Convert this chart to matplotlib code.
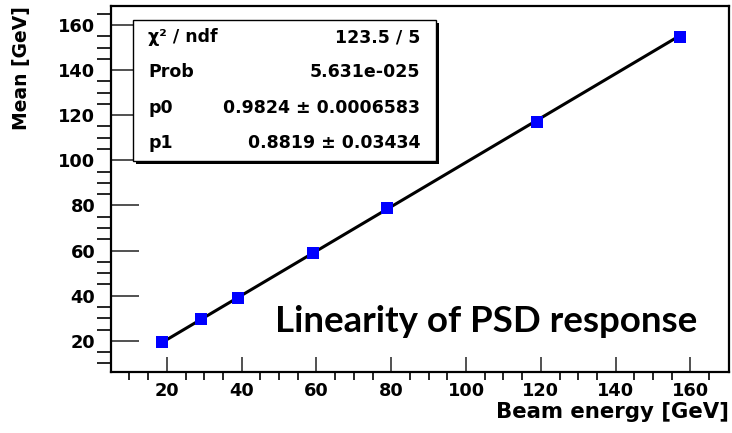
from matplotlib import pyplot as plt, patches
import numpy as np

# beam energies and measured mean response
beamEnergy = [18.8, 29.1, 38.9, 59.1, 78.9, 119.0, 157.1]
meanResponse = [19.6, 29.5, 39.2, 59.0, 78.7, 117.1, 154.8]
# linear fit p0*x + p1
p0 = 0.9824
p1 = 0.8819
statLabels = ["\u03c7\u00b2 / ndf", "Prob", "p0", "p1"]
statValues = ["123.5 / 5", "5.631e-025", "0.9824 \u00b1 0.0006583", "0.8819 \u00b1 0.03434"]

W, H = 732, 433
plt.rcParams["font.family"] = ["DejaVu Sans"]
plt.rcParams["font.weight"] = "bold"
fig = plt.figure(figsize=(W/100, H/100), dpi=100)
ax = fig.add_axes([110.7/W, 1-372/H, (729-110.7)/W, (372-6)/H])

xFit = np.linspace(beamEnergy[0]+0.7, beamEnergy[-1], 50)
ax.plot(xFit, p0*xFit + p1, color='black', lw=2.2, zorder=2)
ax.plot(beamEnergy, meanResponse, 's', color='#0000ff', ms=8, mew=0, zorder=3)

ax.set_xlim(5, 170.3)
ax.set_ylim(6.2, 168.4)
ax.set_xticks(range(20, 161, 20))
ax.set_yticks(range(20, 161, 20))
ax.set_xticks(range(10, 170, 5), minor=True)
ax.set_yticks(range(10, 168, 5), minor=True)
ax.tick_params(direction='in', labelsize=12.8, width=1.2, color='#333333')
ax.tick_params(axis='x', which='major', length=11, pad=7)
ax.tick_params(axis='x', which='minor', length=5.5, width=1.2)
ax.tick_params(axis='y', which='major', length=20, pad=11)
ax.tick_params(axis='y', which='minor', length=10, width=1.2)
for lbl in ax.get_xticklabels() + ax.get_yticklabels():
  lbl.set_fontweight('bold')
for s in ax.spines.values():
  s.set_linewidth(1.6)

fig.text(729/W, 1-412/H, "Beam energy [GeV]", ha='right', va='center', fontsize=15.3, fontweight='bold')
fig.text(22/W, 1-6/H, "Mean [GeV]", ha='center', va='top', rotation=90, fontsize=13.5, fontweight='bold')

# stats box with shadow
bx0, by0, bx1, by1 = 133, 20, 436, 161
shadow = patches.Rectangle(((bx0+3)/W, 1-(by1+3)/H), (bx1-bx0)/W, (by1-by0)/H, transform=fig.transFigure,
                           facecolor='black', edgecolor='none', zorder=4)
ax.add_patch(shadow)
ax.add_patch(patches.Rectangle((bx0/W, 1-by1/H), (bx1-bx0)/W, (by1-by0)/H, transform=fig.transFigure,
                               facecolor='white', edgecolor='black', lw=1.0, zorder=5))
rowsY = [37, 72, 108, 143]
for lab, val, yy in zip(statLabels, statValues, rowsY):
  fig.text(148/W, 1-yy/H, lab, ha='left', va='center', fontsize=12.5, fontweight='bold', zorder=6)
  fig.text(420/W, 1-yy/H, val, ha='right', va='center', fontsize=12.5, fontweight='bold', zorder=6)

fig.text(275/W, 1-332/H, "Linearity of PSD response", ha='left', va='baseline',
         fontsize=26.4, fontweight='bold', family='Lato')

fig.savefig("out.png", dpi=100)
